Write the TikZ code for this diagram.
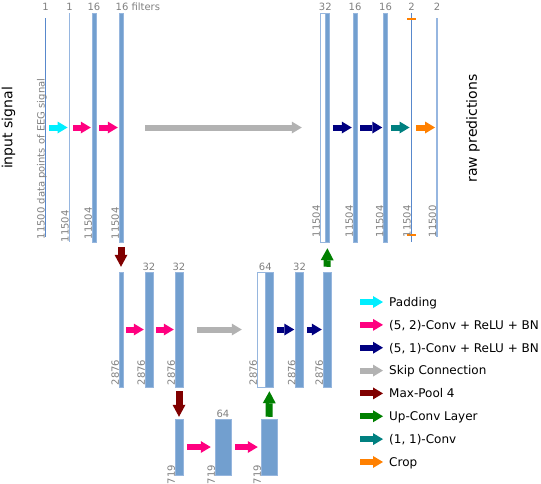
\documentclass[tikz,border=0pt]{standalone}
\usepackage{fontspec}
\setmainfont{DejaVu Sans}
\usetikzlibrary{arrows.meta, positioning}

\definecolor{barblue}{RGB}{114,159,207}
\definecolor{barrim}{RGB}{150,182,222}
\definecolor{thindark}{RGB}{88,136,204}
\definecolor{thinlight}{RGB}{150,182,224}
\definecolor{lblgray}{RGB}{128,128,128}
\definecolor{padcol}{RGB}{0,238,255}
\definecolor{convtwo}{RGB}{255,0,128}
\definecolor{convone}{RGB}{0,0,128}
\definecolor{skipcol}{RGB}{178,178,178}
\definecolor{poolcol}{RGB}{128,0,0}
\definecolor{upcol}{RGB}{0,128,0}
\definecolor{onecol}{RGB}{0,128,128}
\definecolor{cropcol}{RGB}{255,128,0}

\begin{document}
\begin{tikzpicture}[
    x=1pt, y=-1pt,
    bar/.style={draw=barrim, fill=barblue, line width=0.5pt, inner sep=0pt, minimum width=#1},
    thinbar/.style={fill=#1, inner sep=0pt, minimum width=1.5pt},
    gapbox/.style={draw=barrim, fill=white, line width=0.5pt, inner sep=0pt, minimum width=#1},
    tall/.style={minimum height=229pt},
    mid/.style={minimum height=115pt},
    low/.style={minimum height=56pt},
    cnt/.style={anchor=base, inner sep=0pt, text=lblgray, font=\fontsize{10}{12}\selectfont},
    dim/.style={rotate=90, anchor=base west, inner sep=0pt, xshift=-2.5pt, text=lblgray, font=\fontsize{10}{12}\selectfont},
    flow/.style={line width=6pt, -{Triangle[length=10pt, width=12pt, line width=0pt]}, shorten <=3pt, shorten >=1pt},
    drop/.style={line width=7pt, -{Triangle[length=12pt, width=13pt, line width=0pt]}},
    side/.style={rotate=90, font=\fontsize{14}{17}\selectfont},
    legtxt/.style={anchor=west, inner sep=0pt, text height=8.75pt, text depth=0pt, font=\fontsize{12}{14}\selectfont}
]
    \useasboundingbox (0,0) rectangle (541,483);

    % Side captions
    \node[side] (insig) at (8.5,128) {input signal};
    \node[side] (rawpred) at (473,128.5) {raw predictions};

    % Top level: full length 11504
    \node[thinbar=thindark, minimum height=219pt] (in) at (45.5,127.5) {};
    \node[thinbar=thinlight, tall] (pad) at (69.5,127.5) {};
    \node[bar=4pt, tall] (c1) at (94,127.5) {};
    \node[bar=4pt, tall] (c2) at (121,127.5) {};
    \node[gapbox=5pt, tall] (skt) at (322.5,127.5) {};
    \node[bar=4pt, tall, right=0pt of skt] (upt) {};
    \node[bar=4pt, tall] (d1) at (355,127.5) {};
    \node[bar=4pt, tall] (d2) at (385.5,127.5) {};
    \node[thinbar=thindark, tall] (o1) at (411.5,127.5) {};
    \node[thinbar=thinlight, minimum height=219pt] (out) at (437,127.5) {};

    % Crop marks on the last conv output
    \draw[cropcol, line width=2.5pt] ([shift={(-4.5,6)}]o1.north) -- ([shift={(4.5,6)}]o1.north);
    \draw[cropcol, line width=2.5pt] ([shift={(-4.5,-7)}]o1.south) -- ([shift={(4.5,-7)}]o1.south);

    % Middle level: length 2876
    \node[bar=4pt, mid] (p1) at (121,329.5) {};
    \node[bar=8pt, mid] (e1) at (149,329.5) {};
    \node[bar=8pt, mid] (e2) at (179,329.5) {};
    \node[gapbox=8pt, mid] (skm) at (261,329.5) {};
    \node[bar=8pt, mid, right=0pt of skm] (upm) {};
    \node[bar=8pt, mid] (f1) at (299.5,329.5) {};
    \node[bar=8pt, mid] (f2) at (327,329.5) {};

    % Bottom level: length 719
    \node[bar=8pt, low] (p2) at (179,447) {};
    \node[bar=16pt, low] (g1) at (223,447) {};
    \node[bar=16pt, low] (u1) at (269,447) {};

    % Filter counts
    \coordinate (topcnt) at (0,10);
    \coordinate (midcnt) at (0,270);
    \coordinate (lowcnt) at (0,417);
    \node[cnt] at (in.north |- topcnt) {1};
    \node[cnt] at (pad.north |- topcnt) {1};
    \node[cnt] at (c1.north |- topcnt) {16};
    \node[cnt, anchor=base west] at ([xshift=-5.5pt]c2.north |- topcnt) {16 filters};
    \node[cnt] at (skt.north east |- topcnt) {32};
    \node[cnt] at (d1.north |- topcnt) {16};
    \node[cnt] at (d2.north |- topcnt) {16};
    \node[cnt] at (o1.north |- topcnt) {2};
    \node[cnt] at (out.north |- topcnt) {2};
    \node[cnt] at (e1.north |- midcnt) {32};
    \node[cnt] at (e2.north |- midcnt) {32};
    \node[cnt] at (skm.north east |- midcnt) {64};
    \node[cnt] at (f1.north |- midcnt) {32};
    \node[cnt] at (g1.north |- lowcnt) {64};

    % Lengths along the time axis
    \coordinate (topfoot) at (0,237);
    \coordinate (rightfoot) at (0,235);
    \coordinate (midfoot) at (0,383);
    \coordinate (lowfoot) at (0,482);
    \node[dim] at (in.west |- topfoot) {11500 data points of EEG signal};
    \node[dim, xshift=-3pt] at (pad.west |- topfoot) {11504};
    \node[dim] at (c1.west |- topfoot) {11504};
    \node[dim] at (c2.west |- topfoot) {11504};
    \node[dim] at (skt.west |- rightfoot) {11504};
    \node[dim] at (d1.west |- rightfoot) {11504};
    \node[dim] at (d2.west |- rightfoot) {11504};
    \node[dim] at (o1.west |- rightfoot) {11504};
    \node[dim] at (out.west |- rightfoot) {11500};
    \node[dim] at (p1.west |- midfoot) {2876};
    \node[dim] at (e1.west |- midfoot) {2876};
    \node[dim] at (e2.west |- midfoot) {2876};
    \node[dim] at (skm.west |- midfoot) {2876};
    \node[dim] at (f1.west |- midfoot) {2876};
    \node[dim] at (f2.west |- midfoot) {2876};
    \node[dim] at (p2.west |- lowfoot) {719};
    \node[dim] at (g1.west |- lowfoot) {719};
    \node[dim] at (u1.west |- lowfoot) {719};

    % Horizontal operations
    \draw[flow, padcol] (in.east) -- (pad.west);
    \draw[flow, convtwo] (pad.east) -- (c1.west);
    \draw[flow, convtwo] (c1.east) -- (c2.west);
    \draw[flow, skipcol, shorten <=22pt, shorten >=18pt] (c2.east) -- (skt.west);
    \draw[flow, convone] (upt.east) -- (d1.west);
    \draw[flow, convone] (d1.east) -- (d2.west);
    \draw[flow, onecol] (d2.east) -- (o1.west);
    \draw[flow, cropcol, shorten <=4pt] (o1.east) -- (out.west);
    \draw[flow, convtwo] (p1.east) -- (e1.west);
    \draw[flow, convtwo] (e1.east) -- (e2.west);
    \draw[flow, skipcol, shorten <=14pt, shorten >=15pt] (e2.east) -- (skm.west);
    \draw[flow, convone] (upm.east) -- (f1.west);
    \draw[flow, convone] (f1.east) -- (f2.west);
    \draw[flow, convtwo, shorten <=4pt, shorten >=4pt] (p2.east) -- (g1.west);
    \draw[flow, convtwo, shorten <=4pt, shorten >=3pt] (g1.east) -- (u1.west);

    % Pooling and up-convolution
    \draw[drop, poolcol, shorten <=5pt, shorten >=5pt] (c2.south) -- (p1.north);
    \draw[drop, poolcol, shorten <=4pt, shorten >=2pt] (e2.south) -- (p2.north);
    \draw[drop, upcol, shorten <=2pt, shorten >=4pt] (u1.north) -- (upm.south);
    \draw[drop, upcol, shorten <=5pt, shorten >=6pt] (f2.north) -- (upt.south);

    % Legend
    \foreach \col/\txt [count=\i from 0] in {padcol/Padding, convtwo/{(5, 2)-Conv + ReLU + BN},
        convone/{(5, 1)-Conv + ReLU + BN}, skipcol/Skip Connection, poolcol/Max-Pool 4,
        upcol/Up-Conv Layer, onecol/{(1, 1)-Conv}, cropcol/Crop} {
        \node[legtxt] (lt\i) at (389,302+22.85*\i) {\txt};
        \coordinate (lg\i) at (360,302+22.85*\i);
        \draw[flow, \col, shorten <=0pt, shorten >=6pt] (lg\i) -- (lt\i.west);
    }
\end{tikzpicture}
\end{document}
